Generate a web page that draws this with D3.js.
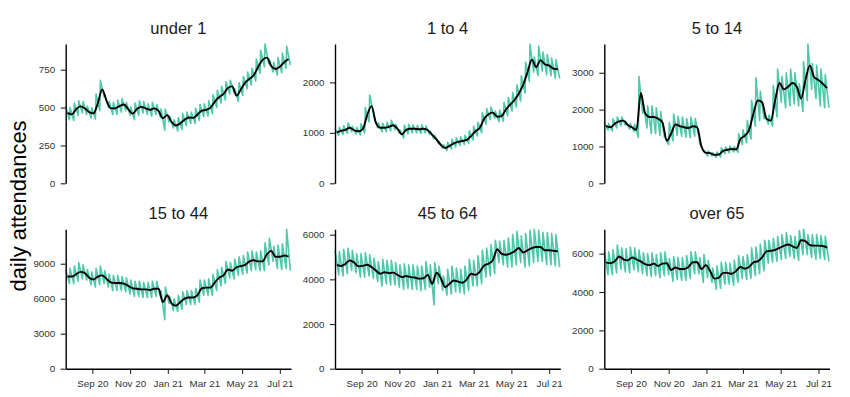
<!DOCTYPE html>
<html>
<head>
<meta charset="utf-8">
<script src="https://cdn.jsdelivr.net/npm/d3@7"></script>
<style>
  html, body { margin: 0; padding: 0; background: #ffffff; }
  svg { display: block; font-family: "Liberation Sans", Arial, sans-serif; }
</style>
</head>
<body>
<svg id="chart" width="850" height="397"></svg>
<script>
// ---------------- data (weekly resolution) ----------------
const groups = ["under 1", "1 to 4", "5 to 14", "15 to 44", "45 to 64", "over 65"];
const firstWeek = "2020-07-20";           // first Monday of the series
const axisEnd = "2021-07-19";

// black line: smoothed daily attendances, one value per week
const smoothUnder1 = [465,455,490,508,495,470,462,530,620,545,495,495,510,520,490,460,490,505,495,485,495,478,430,450,405,382,395,420,435,432,455,480,485,500,540,570,590,630,640,580,620,665,690,715,770,815,830,775,755,770,800,820];
const smooth1to4   = [1010,1040,1060,1100,1050,1030,1080,1350,1530,1200,1100,1100,1120,1150,1080,970,1060,1080,1080,1070,1080,1050,960,870,760,700,740,790,820,840,860,940,1030,1100,1280,1370,1400,1320,1330,1460,1560,1650,1780,1950,2200,2450,2300,2440,2360,2330,2270,2260];
const smooth5to14  = [1550,1520,1620,1680,1700,1580,1520,1450,2450,1900,1800,1800,1750,1650,1150,1350,1600,1550,1520,1500,1550,1520,1000,830,820,770,780,880,910,930,920,1200,1290,1450,1900,2250,2200,1750,1700,2250,2720,2550,2620,2720,2620,2300,2800,3200,2880,2800,2700,2580];
const smooth15to44 = [7900,7900,8100,8300,8200,7800,7650,7900,8000,7700,7400,7350,7350,7300,7100,6900,6850,6800,6800,6750,6850,6850,5700,6300,5600,5400,5700,6000,6100,6100,6300,6900,6950,6950,7400,7800,8000,8500,8400,8700,8800,8900,9200,9300,9200,9200,9800,10100,9600,9600,9700,9600];
const smooth45to64 = [4650,4600,4700,4850,4750,4580,4600,4650,4550,4400,4250,4320,4280,4300,4200,4100,4150,4100,4080,4030,4050,4200,3800,4300,4050,3650,3800,3950,3900,3850,4000,4250,4200,4350,4620,4700,4850,5350,5150,5100,5150,5250,5400,5200,5300,5400,5450,5450,5300,5300,5280,5250];
const smoothOver65 = [5550,5500,5600,5850,5700,5650,5800,5700,5600,5450,5400,5480,5350,5480,5500,5150,5280,5200,5200,5300,5550,5550,5200,5400,5100,4700,4750,5000,5000,4950,5100,5300,5220,5300,5550,5600,5800,6120,6150,6200,6300,6400,6480,6380,6300,6700,6650,6450,6420,6420,6400,6320];

// teal line: daily attendances, weekly high (start of week) and low (weekend)
const highUnder1 = [510,500,530,545,540,510,500,590,680,590,540,535,550,560,535,505,530,545,540,525,535,520,490,490,445,420,435,460,470,470,495,520,525,545,585,615,640,670,680,625,665,705,735,760,820,880,920,820,800,830,860,905];
const lowUnder1  = [420,415,450,465,455,430,425,480,570,500,455,455,470,480,450,420,450,465,455,445,455,435,350,405,365,345,355,380,395,395,415,440,445,460,500,530,550,590,600,540,580,625,650,675,725,770,790,735,715,730,760,780];
const high1to4 = [1080,1110,1140,1200,1130,1110,1180,1500,1750,1320,1200,1190,1210,1250,1170,1060,1150,1170,1160,1150,1160,1140,1030,950,830,770,810,870,900,920,950,1040,1130,1210,1400,1480,1510,1430,1450,1600,1700,1800,1950,2130,2400,2760,2500,2720,2600,2550,2480,2450];
const low1to4  = [950,970,990,1020,980,960,1000,1220,1400,1100,1020,1020,1040,1060,1000,900,980,1000,1000,990,1000,970,880,790,690,650,680,720,750,770,790,860,940,1000,1170,1260,1290,1220,1230,1340,1430,1510,1630,1790,2020,2200,2130,2220,2150,2130,2080,2080];
const high5to14 = [1650,1620,1750,1800,1800,1680,1620,1600,2900,2150,2100,2100,2050,1950,1250,1650,1880,1820,1800,1760,1800,1760,1080,900,880,830,850,960,990,1010,1000,1350,1450,1700,2250,2860,2500,1900,1850,2650,3100,2900,3000,3100,3000,2700,3300,3780,3250,3200,3100,2950];
const low5to14  = [1450,1420,1500,1560,1580,1470,1400,1250,1900,1500,1350,1350,1300,1250,1050,1150,1300,1280,1250,1240,1280,1260,900,740,740,700,710,800,830,850,840,1050,1100,1200,1550,1700,1750,1600,1550,1800,2200,2050,2100,2150,2100,1950,2250,2550,2300,2100,2050,2050];
const high15to44 = [8500,8600,8800,9100,8900,8500,8300,8600,8800,8400,8100,8000,8000,7900,7800,7600,7500,7500,7400,7400,7500,7500,6700,7000,6200,6000,6300,6600,6700,6700,6900,7600,7600,7700,8100,8500,8700,9200,9100,9400,9600,9700,10000,10100,10000,10100,10800,11200,10500,10600,10700,11950];
const low15to44  = [7300,7300,7500,7700,7600,7200,7000,7200,7300,7000,6700,6700,6700,6600,6400,6200,6200,6100,6100,6100,6200,6200,4200,5600,5000,4900,5100,5500,5500,5500,5700,6300,6300,6300,6700,7100,7300,7800,7700,8000,8100,8200,8400,8500,8400,8400,8900,9200,8600,8500,8600,8400];
const high45to64 = [5300,5250,5350,5400,5300,5150,5150,5200,5100,4950,4800,4900,4850,4850,4750,4650,4700,4650,4650,4600,4600,4800,4650,4750,4600,4150,4450,4600,4500,4450,4600,4900,4850,5050,5300,5400,5550,5750,5700,5750,5850,6000,6150,5950,6050,6200,6240,6200,6100,6100,6050,6000];
const low45to64  = [4200,4150,4250,4400,4300,4100,4100,4150,4050,3900,3700,3800,3750,3750,3650,3550,3600,3550,3550,3500,3550,3650,2850,3800,3500,3300,3350,3450,3400,3350,3500,3700,3700,3800,4100,4150,4250,4750,4650,4550,4550,4650,4750,4550,4600,4750,4800,4800,4650,4650,4600,4550];
const highOver65 = [6100,6100,6200,6450,6300,6250,6350,6300,6200,6050,6000,6050,5950,6050,6100,5750,5850,5800,5800,5900,6100,6100,5800,5950,5650,5250,5350,5550,5550,5500,5650,5900,5850,5950,6300,6350,6500,6700,6700,6800,6900,7000,7100,6950,6900,7200,7270,7000,7000,7000,6950,6900];
const lowOver65  = [4900,4900,5000,5200,5050,5000,5150,5050,4950,4850,4800,4850,4750,4850,4900,4550,4650,4600,4600,4700,4950,4950,4500,4750,4500,4150,4200,4400,4400,4350,4500,4700,4650,4700,4850,4950,5100,5500,5550,5600,5700,5750,5850,5750,5650,5950,5950,5800,5700,5750,5700,5600];

// tick labels
const yTicksUnder1 = [0, 250, 500, 750];
const yTicks1to4   = [0, 1000, 2000];
const yTicks5to14  = [0, 1000, 2000, 3000];
const yTicks15to44 = [0, 3000, 6000, 9000];
const yTicks45to64 = [0, 2000, 4000, 6000];
const yTicksOver65 = [0, 2000, 4000, 6000];
const xTickDates  = ["2020-09-01", "2020-11-01", "2021-01-01", "2021-03-01", "2021-05-01", "2021-07-01"];
const xTickLabels = ["Sep 20", "Nov 20", "Jan 21", "Mar 21", "May 21", "Jul 21"];
const yAxisTitle = "daily attendances";

// ---------------- build ----------------
const smooths = [smoothUnder1, smooth1to4, smooth5to14, smooth15to44, smooth45to64, smoothOver65];
const highs = [highUnder1, high1to4, high5to14, high15to44, high45to64, highOver65];
const lows = [lowUnder1, low1to4, low5to14, low15to44, low45to64, lowOver65];
const yTicks = [yTicksUnder1, yTicks1to4, yTicks5to14, yTicks15to44, yTicks45to64, yTicksOver65];

const parse = d3.utcParse("%Y-%m-%d");
const start = parse(firstWeek);
const end = parse(axisEnd);

const colX = [[65.7, 291], [335, 560.3], [604.3, 829.6]];
const rowY = [[44, 183.3], [229.3, 368.7]];
const TEAL = "#4ec8ab";

const svg = d3.select("#chart");
svg.append("rect").attr("width", 850).attr("height", 397).attr("fill", "#fff");

groups.forEach((g, i) => {
  const col = i % 3, row = Math.floor(i / 3);
  const x = d3.scaleUtc().domain([start, end]).range(colX[col]);
  const y = d3.scaleLinear().domain([0, d3.max(highs[i])]).range([rowY[row][1], rowY[row][0]]);

  const daily = [];
  highs[i].forEach((h, w) => {
    daily.push({ date: d3.utcDay.offset(start, 7 * w), v: h });
    daily.push({ date: d3.utcDay.offset(start, 7 * w + 6), v: lows[i][w] });
  });
  const smooth = smooths[i].map((v, w) => ({ date: d3.utcDay.offset(start, 7 * w + 3), v }));

  const p = svg.append("g");

  p.append("path").datum(daily)
    .attr("fill", "none").attr("stroke", TEAL).attr("stroke-width", 1.6)
    .attr("stroke-linejoin", "round")
    .attr("d", d3.line().x(d => x(d.date)).y(d => y(d.v)));

  p.append("path").datum(smooth)
    .attr("fill", "none").attr("stroke", "#000").attr("stroke-width", 1.9)
    .attr("stroke-linejoin", "round")
    .attr("d", d3.line().curve(d3.curveMonotoneX).x(d => x(d.date)).y(d => y(d.v)));

  // y axis
  const ya = p.append("g").attr("transform", `translate(${colX[col][0]},0)`)
    .call(d3.axisLeft(y).tickValues(yTicks[i]).tickFormat(d3.format("d")).tickSize(5).tickSizeOuter(0).tickPadding(5.5));
  ya.select(".domain").attr("stroke", "#000").attr("stroke-width", 1.4);
  ya.selectAll(".tick line").attr("stroke", "#222").attr("stroke-width", 1.1);
  ya.selectAll(".tick text").attr("fill", "#333").attr("font-size", 9.8)
    .attr("font-family", "Liberation Sans, Arial, sans-serif");

  // x axis only on bottom row
  if (row === 1) {
    const xa = p.append("g").attr("transform", `translate(0,${rowY[row][1]})`)
      .call(d3.axisBottom(x).tickValues(xTickDates.map(parse))
        .tickFormat((d, k) => xTickLabels[k]).tickSize(5).tickSizeOuter(0).tickPadding(6));
    xa.select(".domain").attr("stroke", "#000").attr("stroke-width", 1.4);
    xa.selectAll(".tick line").attr("stroke", "#222").attr("stroke-width", 1.1);
    xa.selectAll(".tick text").attr("fill", "#333").attr("font-size", 9.8)
      .attr("font-family", "Liberation Sans, Arial, sans-serif");
  }

  // panel title
  p.append("text")
    .attr("x", (colX[col][0] + colX[col][1]) / 2)
    .attr("y", row === 0 ? 34 : 219)
    .attr("text-anchor", "middle")
    .attr("font-size", 16.5).attr("fill", "#1a1a1a")
    .text(g);
});

svg.append("text")
  .attr("transform", "translate(25.5,206) rotate(-90)")
  .attr("text-anchor", "middle")
  .attr("font-size", 22).attr("fill", "#000")
  .text(yAxisTitle);
</script>
</body>
</html>
